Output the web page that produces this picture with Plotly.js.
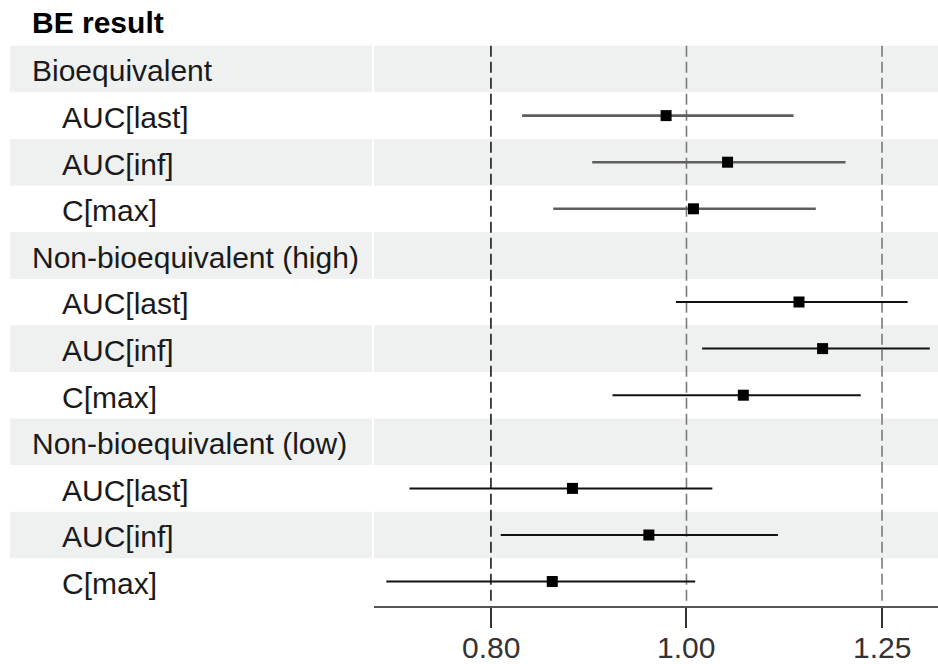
<!DOCTYPE html>
<html>
<head>
<meta charset="utf-8">
<script src="https://cdn.plot.ly/plotly-3.0.1.min.js"></script>
<style>
html,body{margin:0;padding:0;background:#fff;}
#chart{width:938px;height:664px;}
</style>
</head>
<body>
<div id="chart"></div>
<script>
// ---- data ----
const headerText = 'BE result';
const rowLabels = ['Bioequivalent','AUC[last]','AUC[inf]','C[max]',
  'Non-bioequivalent (high)','AUC[last]','AUC[inf]','C[max]',
  'Non-bioequivalent (low)','AUC[last]','AUC[inf]','C[max]'];
const isGroupRow = [true,false,false,false,true,false,false,false,true,false,false,false];
const groupOfRow = ['bio','bio','bio','bio','high','high','high','high','low','low','low','low'];
const estimate = [null,0.977,1.048,1.008, null,1.137,1.168,1.067, null,0.878,0.958,0.858];
const lowerCI  = [null,0.829,0.898,0.859, null,0.988,1.018,0.919, null,0.729,0.809,0.710];
const upperCI  = [null,1.130,1.199,1.159, null,1.287,1.320,1.220, null,1.030,1.110,1.010];
const refValues = [0.80, 1.00, 1.25];
const tickValues = [0.80, 1.00, 1.25];
const tickLabels = ['0.80','1.00','1.25'];

// ---- layout helpers ----
const W = 938, H = 664;
const FONT = '"Liberation Sans", Arial, sans-serif';
const rowY = rowLabels.map((_, i) => i + 1);
const yTop = 1 - 69 / 46.6;
const yBottom = 1 + (605.7 - 69) / 46.6;

const traces = [];

// reference dashed lines
refValues.forEach((v, k) => {
  traces.push({
    type: 'scatter', mode: 'lines', x: [v, v], y: [0.5, yBottom],
    line: {color: k === 0 ? '#1a1a1a' : '#7a7a7a', width: 1.6, dash: '11px,5px'},
    hoverinfo: 'skip', showlegend: false
  });
});

// CI lines
rowLabels.forEach((lab, i) => {
  if (estimate[i] === null) return;
  const bio = groupOfRow[i] === 'bio';
  traces.push({
    type: 'scatter', mode: 'lines', x: [lowerCI[i], upperCI[i]], y: [rowY[i], rowY[i]],
    line: {color: bio ? '#5e5e5e' : '#111111', width: bio ? 2.6 : 2},
    hoverinfo: 'skip', showlegend: false
  });
});

// point estimates
traces.push({
  type: 'scatter', mode: 'markers',
  x: estimate.filter(v => v !== null),
  y: rowY.filter((_, i) => estimate[i] !== null),
  marker: {symbol: 'square', size: 11, color: '#000000', line: {width: 0}},
  hoverinfo: 'skip', showlegend: false
});

// background bands
const shapes = [];
rowY.forEach((y, i) => {
  if (i % 2 === 0) {
    shapes.push({type: 'rect', xref: 'paper', yref: 'y', x0: 10 / W, x1: 372 / W,
      y0: y - 0.5, y1: y + 0.5, fillcolor: '#eef1f0', line: {width: 0}, layer: 'below'});
    shapes.push({type: 'rect', xref: 'paper', yref: 'y', x0: 374 / W, x1: 1,
      y0: y - 0.5, y1: y + 0.5, fillcolor: '#eef1f0', line: {width: 0}, layer: 'below'});
  }
});

// labels
const annotations = [];
annotations.push({xref: 'paper', yref: 'y', x: 30 / W, y: 0, xanchor: 'left', yanchor: 'middle',
  text: '<b>' + headerText + '</b>', showarrow: false,
  font: {family: FONT, size: 30, color: '#000000'}});
rowLabels.forEach((lab, i) => {
  annotations.push({xref: 'paper', yref: 'y',
    x: (isGroupRow[i] ? 30 : 60) / W, y: rowY[i] + 0.04, xanchor: 'left', yanchor: 'middle',
    text: lab, showarrow: false, font: {family: FONT, size: 30, color: '#1a1a1a'}});
});
// x tick labels (placed as annotations on the log axis)
tickValues.forEach((v, k) => {
  annotations.push({xref: 'x', yref: 'paper', x: Math.log10(v), y: (H - 647) / H,
    xanchor: 'center', yanchor: 'middle', text: tickLabels[k], showarrow: false,
    font: {family: FONT, size: 30, color: '#333333'}});
});

const layout = {
  width: W, height: H,
  margin: {l: 0, r: 0, t: 0, b: 0},
  paper_bgcolor: '#ffffff', plot_bgcolor: 'rgba(0,0,0,0)',
  showlegend: false,
  xaxis: {
    type: 'log', domain: [374 / W, 1],
    range: [Math.log10(0.8) - (491 - 374) / 2019.4, Math.log10(1.25) + (938 - 882) / 2019.4],
    tickvals: tickValues, ticktext: tickLabels, showticklabels: false,
    ticks: 'outside', ticklen: 20, tickwidth: 2, tickcolor: '#333333',
    showline: true, linecolor: '#555555', linewidth: 2.5,
    showgrid: false, zeroline: false
  },
  yaxis: {
    domain: [(H - 605.7) / H, 1],
    range: [yBottom, yTop],
    showgrid: false, zeroline: false, showline: false, showticklabels: false, ticks: ''
  },
  shapes: shapes,
  annotations: annotations
};

Plotly.newPlot('chart', traces, layout, {displayModeBar: false, staticPlot: true});
</script>
</body>
</html>
